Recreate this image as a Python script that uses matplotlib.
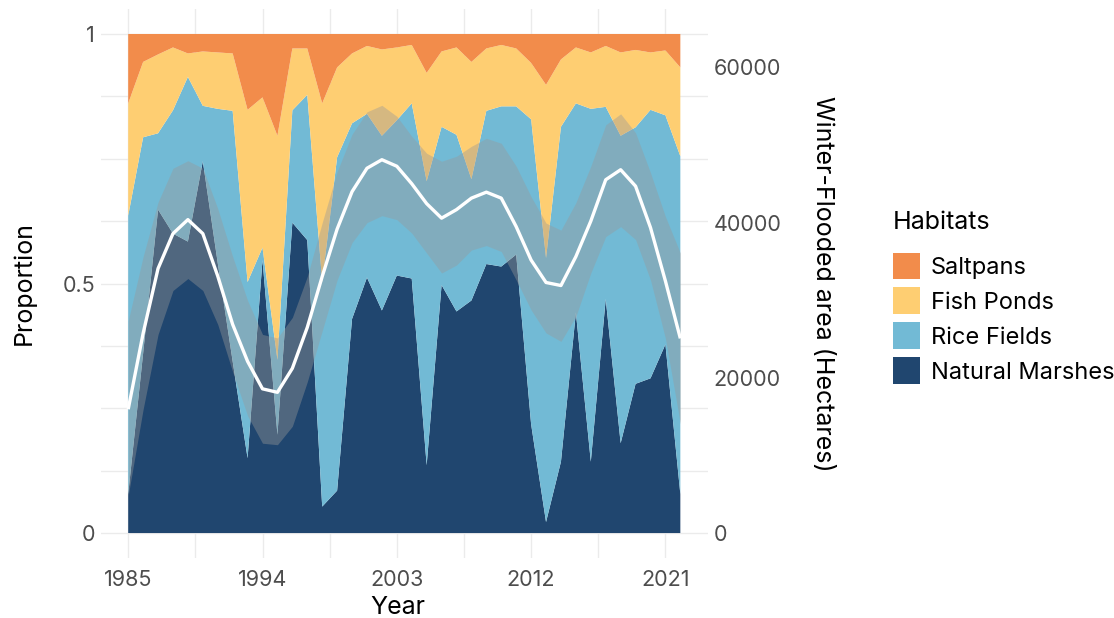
import matplotlib
matplotlib.use("Agg")
import matplotlib.pyplot as plt
from matplotlib.patches import Patch

plt.rcParams['font.family'] = ['Inter', 'DejaVu Sans']

years = list(range(1985, 2023))

# habitat shares (proportion of winter-flooded area)
natural_marshes = [0.078, 0.360, 0.648, 0.600, 0.584, 0.745, 0.541, 0.344, 0.150, 0.547,
                   0.197, 0.622, 0.587, 0.053, 0.085, 0.429, 0.512, 0.446, 0.516, 0.510,
                   0.136, 0.497, 0.444, 0.466, 0.539, 0.534, 0.558, 0.218, 0.022, 0.143,
                   0.442, 0.143, 0.469, 0.180, 0.299, 0.310, 0.378, 0.078]
rice_fields = [0.558, 0.433, 0.153, 0.247, 0.330, 0.111, 0.309, 0.502, 0.353, 0.025,
               0.150, 0.225, 0.291, 0.450, 0.668, 0.392, 0.328, 0.350, 0.311, 0.351,
               0.569, 0.317, 0.354, 0.243, 0.307, 0.321, 0.297, 0.611, 0.529, 0.671,
               0.419, 0.707, 0.385, 0.616, 0.514, 0.538, 0.459, 0.677]
fish_ponds = [0.225, 0.151, 0.158, 0.126, 0.047, 0.109, 0.113, 0.115, 0.345, 0.301,
              0.449, 0.124, 0.093, 0.358, 0.180, 0.140, 0.136, 0.173, 0.146, 0.117,
              0.217, 0.151, 0.175, 0.235, 0.125, 0.123, 0.116, 0.113, 0.347, 0.135,
              0.112, 0.113, 0.122, 0.167, 0.155, 0.115, 0.130, 0.178]
saltpans = [0.139, 0.056, 0.041, 0.027, 0.039, 0.035, 0.037, 0.039, 0.152, 0.127,
            0.204, 0.029, 0.029, 0.139, 0.067, 0.039, 0.024, 0.031, 0.027, 0.022,
            0.078, 0.035, 0.027, 0.056, 0.029, 0.022, 0.029, 0.058, 0.102, 0.051,
            0.027, 0.037, 0.024, 0.037, 0.032, 0.037, 0.033, 0.067]

# smoothed total winter-flooded area (hectares) and its confidence band
flooded_fit = [15950, 25720, 34080, 38580, 40380, 38580, 33110, 26880, 22120, 18580,
               18130, 21220, 26490, 33050, 39160, 43980, 47000, 48100, 47260, 45010,
               42440, 40570, 41670, 43150, 43920, 43150, 39480, 35170, 32280, 31890,
               35620, 40190, 45520, 46810, 44690, 39350, 32470, 25080]
flooded_upper = [27330, 35620, 42630, 47000, 47970, 47000, 41800, 35620, 29960, 25590,
                 25140, 27780, 33050, 39990, 46550, 51380, 54270, 55110, 53690, 51120,
                 48930, 47900, 48550, 49830, 50860, 50220, 47260, 43340, 39930, 39030,
                 42570, 47260, 52600, 54010, 51570, 46420, 40770, 36070]
flooded_lower = [4820, 15950, 25590, 31250, 32790, 31250, 26880, 20770, 15110, 11570,
                 11380, 13760, 19480, 26040, 32600, 37420, 39990, 40890, 40380, 38640,
                 36070, 33500, 34530, 36460, 37040, 36270, 32600, 28740, 25780, 24690,
                 27910, 33500, 38190, 39480, 37810, 32600, 25080, 14080]

habitat_names = ['Natural Marshes', 'Rice Fields', 'Fish Ponds', 'Saltpans']
habitat_colors = ['#20466F', '#72BAD5', '#FECE72', '#F28C4B']

area_scale = 64300  # secondary axis: hectares per unit proportion
grid_col = '#EBEBEB'
tick_col = '#4D4D4D'
tick_fs = 15.5
title_fs = 18
legend_fs = 17

fig = plt.figure(figsize=(11.14, 6.18), dpi=100)
ax = fig.add_axes([0.0903, 0.0971, 0.5452, 0.8883])

ax.stackplot(years, natural_marshes, rice_fields, fish_ponds, saltpans,
             colors=habitat_colors, linewidth=0, antialiased=True)

span = years[-1] - years[0]
ax.set_xlim(years[0] - 0.05 * span, years[-1] + 0.05 * span)
ax.set_ylim(-0.05, 1.05)

ax.set_xticks([1985, 1994, 2003, 2012, 2021])
ax.set_xticks([1989.5, 1998.5, 2007.5, 2016.5], minor=True)
ax.set_yticks([0, 0.5, 1])
ax.set_yticklabels(['0', '0.5', '1'])
ax.set_yticks([0.125, 0.25, 0.375, 0.625, 0.75, 0.875], minor=True)
ax.set_axisbelow(True)
ax.grid(True, which='both', color=grid_col, linewidth=1.0)
ax.tick_params(which='both', length=0)
ax.tick_params(axis='y', labelsize=tick_fs, colors=tick_col, pad=4)
ax.tick_params(axis='x', labelsize=tick_fs, colors=tick_col, pad=9)
for s in ax.spines.values():
    s.set_visible(False)

ax.set_xlabel('Year', fontsize=title_fs, color='black', va='center', ha='center')
ax.xaxis.set_label_coords(0.49, -0.091)
ax.set_ylabel('Proportion', fontsize=title_fs, color='black', va='center', ha='center')
ax.yaxis.set_label_coords(-0.126, 0.5)

ax2 = ax.twinx()
ax2.fill_between(years, flooded_lower, flooded_upper, color='#999999', alpha=0.4, linewidth=0)
ax2.plot(years, flooded_fit, color='white', linewidth=2.4, solid_capstyle='butt')
ax2.set_ylim(-0.05 * area_scale, 1.05 * area_scale)
ax2.set_yticks([0, 20000, 40000, 60000])
ax2.set_yticklabels(['0', '20000', '40000', '60000'])
ax2.tick_params(length=0, labelsize=tick_fs, colors=tick_col, pad=4)
for s in ax2.spines.values():
    s.set_visible(False)
ax2.set_ylabel('Winter-Flooded area (Hectares)', fontsize=title_fs, color='black',
               rotation=-90, va='center', ha='center')
ax2.yaxis.set_label_coords(1.188, 0.5)

# legend: title as its own text, keys below it
fig.text(893 / 1114, 1 - 222 / 618, 'Habitats', fontsize=title_fs,
         ha='left', va='center', color='black')
handles = [Patch(facecolor=c, edgecolor='none', label=n)
           for n, c in zip(habitat_names[::-1], habitat_colors[::-1])]
leg = fig.legend(handles=handles, loc='upper left',
                 bbox_to_anchor=(893 / 1114, 1 - 252.5 / 618), frameon=False,
                 fontsize=legend_fs, handlelength=1.14, handleheight=1.38,
                 handletextpad=0.47, labelspacing=0.34, borderpad=0, borderaxespad=0)

fig.savefig('out.png', dpi=100)
